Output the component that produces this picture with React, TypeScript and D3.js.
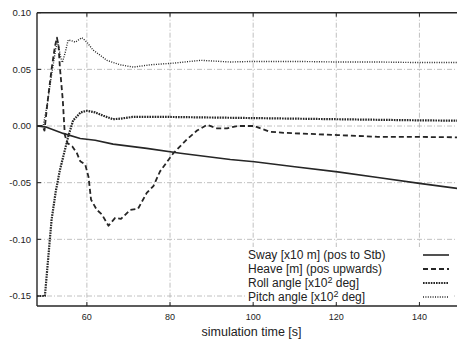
import React from "react";
import * as d3 from "d3";

const W = 457;
const H = 339;

const xTicks = [60, 80, 100, 120, 140];
const yTicks = [0.1, 0.05, 0.0, -0.05, -0.1, -0.15];
const yTickLabels = ["0.10", "0.05", "0.00", "-0.05", "-0.10", "-0.15"];

// Sway [x10 m]
const swayT = [48, 50.3, 54.3, 58.4, 62, 66.3, 74.4, 82.5, 94.5, 100.3, 110, 120.3, 130, 140, 150];
const swayV = [0, -0.001, -0.0065, -0.011, -0.0125, -0.016, -0.0197, -0.024, -0.0295, -0.0315, -0.036, -0.0405, -0.0455, -0.0506, -0.0555];

// Heave [m]
const heaveT = [48, 49.3, 49.8, 50.5, 51.5, 52.3, 52.8, 53.2, 53.5, 54.2, 54.7, 55.3, 56.5, 57.6, 58.4, 59.6, 60.4, 61, 62.4, 63.6, 65.2, 66.8, 68.2, 70.4, 72.3, 74.4, 76, 77.6, 80.8, 84, 86.5, 88.9, 91.3, 93.7, 96.2, 100.2, 104, 107.4, 113.8, 120.3, 130, 136.4, 150];
const heaveV = [0, 0, -0.004, 0.02, 0.05, 0.07, 0.078, 0.07, 0.052, 0.023, -0.008, -0.015, -0.018, -0.024, -0.031, -0.034, -0.045, -0.065, -0.074, -0.078, -0.088, -0.081, -0.082, -0.074, -0.073, -0.059, -0.053, -0.04, -0.024, -0.012, -0.004, 0.001, -0.002, -0.002, 0, 0, -0.005, -0.006, -0.007, -0.008, -0.0095, -0.0095, -0.01];

// Roll angle [x10^2 deg]
const rollT = [48, 49.9, 51.5, 52.5, 53.5, 55.5, 56.7, 58.5, 60, 62, 64, 66.3, 68, 71, 75, 80, 90, 100, 110, 120, 130, 140, 150];
const rollV = [-0.15, -0.15, -0.083, -0.058, -0.039, -0.0094, 0.005, 0.012, 0.0135, 0.012, 0.009, 0.006, 0.0065, 0.008, 0.008, 0.008, 0.0075, 0.007, 0.0065, 0.006, 0.0055, 0.005, 0.0047];

// Pitch angle [x10^2 deg]
const pitchT = [48, 49.5, 50.5, 51.5, 52.5, 53, 53.6, 54.1, 54.8, 55.5, 56.5, 57.2, 58.8, 60, 61.5, 63, 64.8, 68, 71.2, 75.2, 80.8, 87.3, 94.5, 100, 110, 120, 130, 140, 150];
const pitchV = [0, 0, 0.02, 0.045, 0.068, 0.075, 0.062, 0.056, 0.065, 0.076, 0.075, 0.074, 0.078, 0.074, 0.067, 0.063, 0.058, 0.054, 0.052, 0.054, 0.0555, 0.058, 0.0565, 0.057, 0.057, 0.0565, 0.0565, 0.056, 0.056];

const legendLabels = ["Sway [x10 m] (pos to Stb)", "Heave [m] (pos upwards)", "Roll angle [x10", "Pitch angle [x10"];

const INK = "#262626";
const styles = [
  { width: 1.6, dash: "" },
  { width: 1.8, dash: "5,3" },
  { width: 2.2, dash: "1.6,1" },
  { width: 1.4, dash: "1,1.4" },
];

export default function App() {
  const left = 37;
  const right = 461;
  const top = 12.7;
  const bottom = 306;

  const x = d3.scaleLinear().domain([48, 150]).range([left, right]);
  const y = d3.scaleLinear().domain([-0.15, 0.1]).range([296, top]);

  const series = [
    swayT.map((t, i) => [t, swayV[i]]),
    heaveT.map((t, i) => [t, heaveV[i]]),
    rollT.map((t, i) => [t, rollV[i]]),
    pitchT.map((t, i) => [t, pitchV[i]]),
  ] as [number, number][][];

  const line = d3
    .line<[number, number]>()
    .x((d) => x(d[0]))
    .y((d) => y(d[1]));

  const font = "'Liberation Sans', Arial, sans-serif";
  const legendBaselines = [259, 273, 287, 301];

  return (
    <svg width={W} height={H} style={{ position: "absolute", left: 0, top: 0, background: "#fff" }}>
      <rect x={0} y={0} width={W} height={H} fill="#fff" />
      <defs>
        <clipPath id="plotclip">
          <rect x={left} y={top} width={right - left} height={bottom - top} />
        </clipPath>
      </defs>
      {/* grid */}
      {yTicks.slice(1).map((v) => (
        <line key={"gy" + v} x1={left} x2={right} y1={y(v)} y2={y(v)} stroke="#b0b0b0" strokeWidth={0.8} strokeDasharray="5,2,1,2" />
      ))}
      {xTicks.map((v) => (
        <line key={"gx" + v} x1={x(v)} x2={x(v)} y1={top} y2={bottom} stroke="#b0b0b0" strokeWidth={0.8} strokeDasharray="5,2,1,2" />
      ))}
      {/* data */}
      <g clipPath="url(#plotclip)">
        {series.map((s, i) => (
          <path
            key={"s" + i}
            d={line(s) || ""}
            fill="none"
            stroke={INK}
            strokeWidth={styles[i].width}
            strokeDasharray={styles[i].dash || undefined}
            strokeLinejoin="round"
          />
        ))}
      </g>
      {/* legend box */}
      <rect x={246} y={247} width={206} height={57} fill="#fff" />
      {legendLabels.map((lab, i) => (
        <g key={"lg" + i}>
          <text x={248} y={legendBaselines[i]} fontFamily={font} fontSize={12} fill="#222">
            {lab}
            {i >= 2 ? (
              <>
                <tspan dy={-4} fontSize={9}>2</tspan>
                <tspan dy={4}> deg]</tspan>
              </>
            ) : null}
          </text>
          <line
            x1={423}
            x2={449}
            y1={legendBaselines[i] - 4}
            y2={legendBaselines[i] - 4}
            stroke={INK}
            strokeWidth={styles[i].width}
            strokeDasharray={styles[i].dash || undefined}
          />
        </g>
      ))}
      {/* frame */}
      <line x1={left} x2={right} y1={top} y2={top} stroke={INK} strokeWidth={1.4} />
      <line x1={left} x2={right} y1={bottom} y2={bottom} stroke={INK} strokeWidth={1.4} />
      <line x1={left} x2={left} y1={top} y2={bottom} stroke={INK} strokeWidth={1.4} />
      {xTicks.map((v) => (
        <g key={"tx" + v}>
          <line x1={x(v)} x2={x(v)} y1={bottom} y2={bottom - 4} stroke={INK} strokeWidth={1} />
          <line x1={x(v)} x2={x(v)} y1={top} y2={top + 4} stroke={INK} strokeWidth={1} />
          <text x={x(v)} y={320} textAnchor="middle" fontFamily={font} fontSize={9} fill="#222">
            {v}
          </text>
        </g>
      ))}
      {yTicks.map((v, i) => (
        <g key={"ty" + v}>
          <line x1={left} x2={left + 4} y1={y(v)} y2={y(v)} stroke={INK} strokeWidth={1} />
          <text x={31} y={y(v) + 3.3} textAnchor="end" fontFamily={font} fontSize={9.5} fill="#222">
            {yTickLabels[i]}
          </text>
        </g>
      ))}
      <text x={251.5} y={336} textAnchor="middle" fontFamily={font} fontSize={12.5} fill="#222">
        simulation time [s]
      </text>
    </svg>
  );
}
